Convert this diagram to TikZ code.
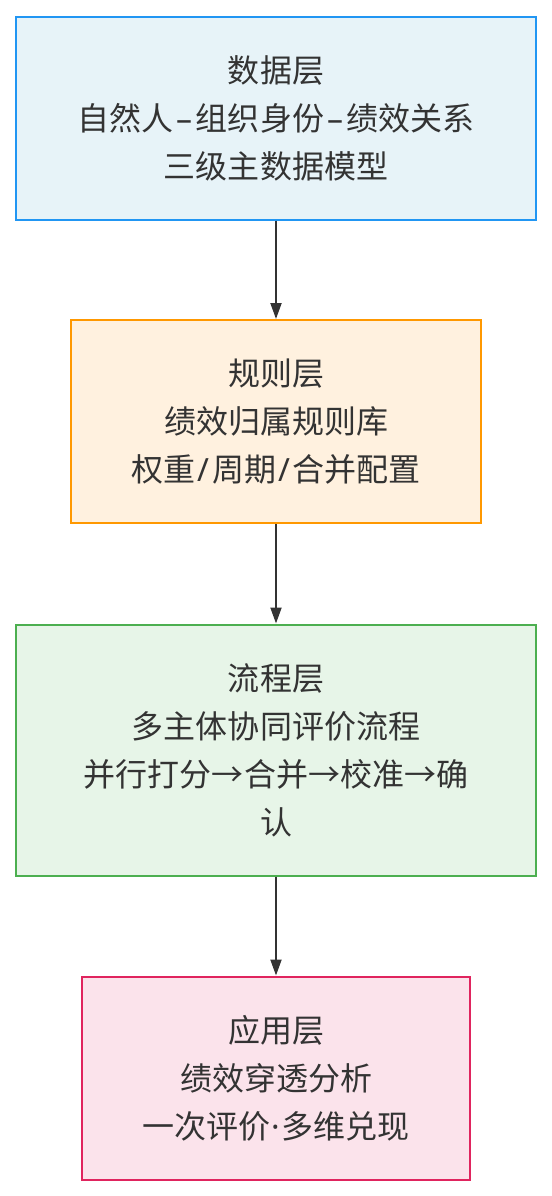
\documentclass[tikz,border=0pt]{standalone}
\usepackage{fontspec}
\setmainfont{Noto Sans CJK SC}
\newfontfamily\latinfont{Noto Sans}
\usetikzlibrary{arrows.meta}
\definecolor{txt}{HTML}{333333}
\definecolor{bfill}{HTML}{E7F3F8}
\definecolor{bdraw}{HTML}{2196F3}
\definecolor{ofill}{HTML}{FFF1DF}
\definecolor{odraw}{HTML}{FF9800}
\definecolor{gfill}{HTML}{E7F5E8}
\definecolor{gdraw}{HTML}{4CAF50}
\definecolor{pfill}{HTML}{FBE3EB}
\definecolor{pdraw}{HTML}{E0245E}
\newcommand{\mydash}{{\latinfont\kern3bp–\kern3bp}}
\newcommand{\myslash}{{\latinfont\kern2.5bp/\kern2.5bp}}
\tikzset{
  layer/.style={draw, line width=2bp, inner sep=0pt, text=txt, align=center,
    font=\fontsize{32bp}{48bp}\selectfont},
  conn/.style={draw=txt, line width=2bp, -{Triangle[length=16bp,width=11bp]}}
}
\begin{document}
\begin{tikzpicture}[x=1bp,y=-1bp]
\useasboundingbox (0,0) rectangle (552,1196);
\node[layer, fill=bfill, draw=bdraw, minimum width=519bp, minimum height=203bp] (data) at (276,118)
  {数据层\\自然人\mydash 组织身份\mydash 绩效关系\\三级主数据模型};
\node[layer, fill=ofill, draw=odraw, minimum width=409bp, minimum height=203bp] (rule) at (276,421.5)
  {规则层\\绩效归属规则库\\权重\myslash 周期\myslash 合并配置};
\node[layer, fill=gfill, draw=gdraw, minimum width=519bp, minimum height=251bp] (flow) at (276,750)
  {流程层\\多主体协同评价流程\\并行打分→合并→校准→确\\认};
\node[layer, fill=pfill, draw=pdraw, minimum width=387bp, minimum height=203bp] (app) at (276,1078)
  {应用层\\绩效穿透分析\\一次评价{\latinfont\kern1.5bp·\kern1.5bp}多维兑现};
\draw[conn] (data) -- (rule);
\draw[conn] (rule) -- (flow);
\draw[conn] (flow) -- (app);
\end{tikzpicture}
\end{document}
